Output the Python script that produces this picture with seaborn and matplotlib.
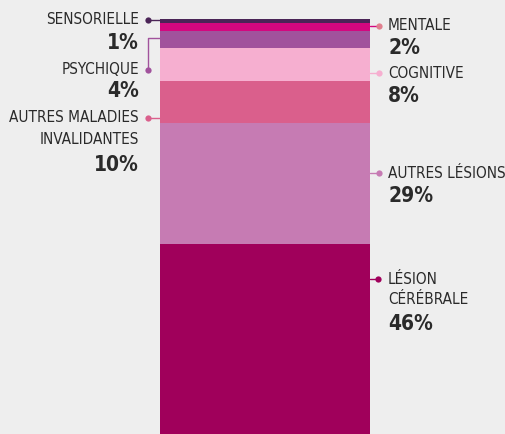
import matplotlib
matplotlib.use("Agg")
import matplotlib.pyplot as plt
import seaborn as sns
import numpy as np
import pandas as pd
from matplotlib import font_manager
from matplotlib.font_manager import FontProperties

categories = ["SENSORIELLE", "MENTALE", "PSYCHIQUE", "COGNITIVE",
              "AUTRES MALADIES INVALIDANTES", "AUTRES LÉSIONS", "LÉSION CÉRÉBRALE"]
values = [1, 2, 4, 8, 10, 29, 46]
colors = ["#4b2457", "#d4077f", "#a1529c", "#f6afd0", "#da5f8c", "#c67bb3", "#a0005b"]
pct_labels = ["1%", "2%", "4%", "8%", "10%", "29%", "46%"]

sns.set_theme(style="white")
plt.rcParams["font.family"] = ["DejaVu Sans"]

reg, bold = None, None
for f in font_manager.fontManager.ttflist:
    n = f.fname.lower()
    if "dejavusanscondensed" in n.replace("-", "").replace("_", ""):
        if "bold" in n and "oblique" not in n:
            bold = f.fname
        elif "bold" not in n and "oblique" not in n:
            reg = f.fname
if reg is None:
    for f in font_manager.fontManager.ttflist:
        n = f.fname.lower()
        if ("narrow" in n or "condensed" in n) and "italic" not in n and "oblique" not in n:
            if "bold" in n:
                bold = bold or f.fname
            else:
                reg = reg or f.fname

if reg:
    fp_r = FontProperties(fname=reg, size=11)
    fp_b = FontProperties(fname=bold if bold else reg, size=15, weight="bold")
else:
    fp_r = FontProperties(family="DejaVu Sans", size=10)
    fp_b = FontProperties(family="DejaVu Sans", size=14, weight="bold")

BG = "#eeeeee"
W, H = 505, 434
fig = plt.figure(figsize=(W / 100, H / 100), dpi=100, facecolor=BG)

ax = fig.add_axes([0, -1 / H, 1, (H - 19 + 1) / H])
ax.set_facecolor(BG)
cum = np.cumsum(values)
df = pd.DataFrame({"cat": categories, "cum": cum, "color": colors})
for i in range(len(df) - 1, -1, -1):
    sns.barplot(x=["bar"], y=[df["cum"][i]], color=df["color"][i], width=0.8,
                saturation=1, ax=ax, linewidth=0)
unit = 210 / 0.8
ax.set_xlim(-265 / unit, (W - 265) / unit)
ax.set_ylim(100, 0)
ax.axis("off")

ov = fig.add_axes([0, 0, 1, 1])
ov.set_xlim(0, W)
ov.set_ylim(H, 0)
ov.axis("off")
ov.patch.set_alpha(0)

TXT = "#2a2a2a"

def dot(x, y, c):
    ov.plot([x], [y], "o", color=c, ms=4.5, mec="none")

def lab(x, y, s, ha, b=False):
    ov.text(x, y, s, ha=ha, va="center", color=TXT, fontproperties=fp_b if b else fp_r)

# left side
ov.plot([148, 160], [20, 20], color=colors[0], lw=1)
dot(148, 20, colors[0])
lab(139, 20, categories[0], "right")
lab(139, 43, pct_labels[0], "right", True)

ov.plot([160, 148, 148], [38, 38, 70], color=colors[2], lw=1)
dot(148, 70, colors[2])
lab(139, 70, categories[2], "right")
lab(139, 91, pct_labels[2], "right", True)

ov.plot([148, 160], [118, 118], color=colors[4], lw=1)
dot(148, 118, colors[4])
lab(139, 118, "AUTRES MALADIES", "right")
lab(139, 139, "INVALIDANTES", "right")
lab(139, 165, pct_labels[4], "right", True)

# right side
ov.plot([370, 379], [26, 26], color=colors[1], lw=1)
dot(379, 26, "#e07f8e")
lab(388, 26, categories[1], "left")
lab(388, 48, pct_labels[1], "left", True)

ov.plot([370, 379], [73, 73], color=colors[3], lw=1)
dot(379, 73, colors[3])
lab(388, 73, categories[3], "left")
lab(388, 96, pct_labels[3], "left", True)

ov.plot([370, 379], [173, 173], color=colors[5], lw=1)
dot(379, 173, colors[5])
lab(388, 173, categories[5], "left")
lab(388, 196, pct_labels[5], "left", True)

ov.plot([370, 378], [279, 279], color=colors[6], lw=1)
dot(378, 279, colors[6])
lab(388, 279, "LÉSION", "left")
lab(388, 300, "CÉRÉBRALE", "left")
lab(388, 324, pct_labels[6], "left", True)

fig.savefig("out.png", dpi=100, facecolor=BG)
